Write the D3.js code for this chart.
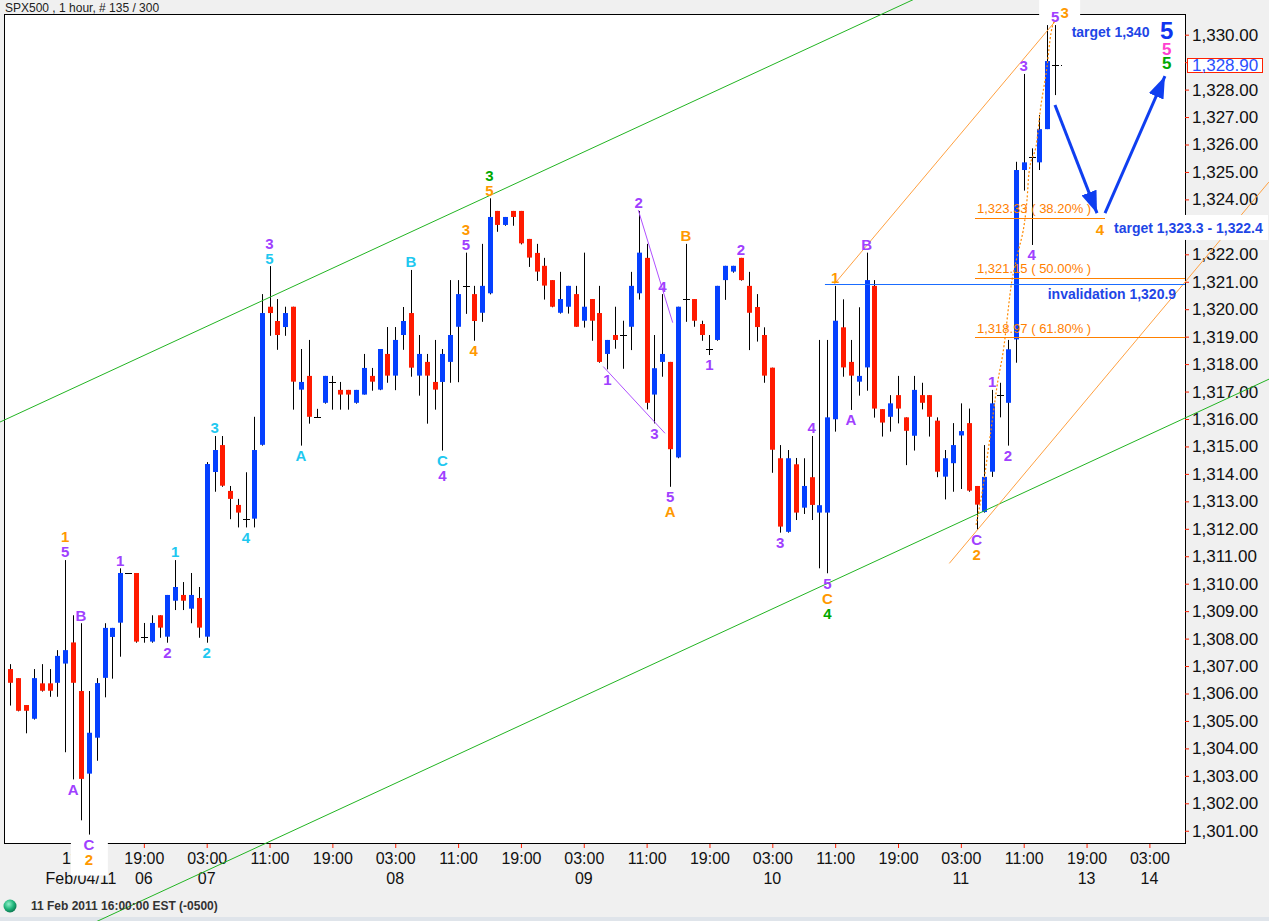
<!DOCTYPE html>
<html><head><meta charset="utf-8">
<script src="https://cdn.jsdelivr.net/npm/d3@7"></script>
<style>
html,body{margin:0;padding:0;background:#f0f0f0;overflow:hidden;}
svg{display:block;font-family:"Liberation Sans",Arial,sans-serif;}
</style></head><body>
<svg id="c" width="1269" height="921"></svg>
<script>
// ---------------- DATA ----------------
const opens = [1306.89,1306.56,1305.58,1305.08,1306.37,1306.37,1306.39,1307.09,1307.86,1306.09,
1303.08,1304.39,1306.57,1308.06,1308.58,1310.39,1310.39,1308.06,1307.89,1308.85,
1308.07,1309.38,1309.59,1309.09,1309.48,1308.07,1314.07,1315.05,1313.38,1312.87,
1312.35,1312.37,1315.06,1320.09,1319.57,1319.35,1320.09,1317.07,1317.57,1316.06,
1316.59,1317.35,1317.06,1317.06,1316.59,1316.89,1317.57,1317.07,1318.37,1317.58,
1319.06,1319.86,1317.58,1318.08,1317.35,1317.35,1318.08,1319.36,1320.85,1320.55,
1319.87,1320.58,1323.58,1323.07,1323.58,1323.58,1322.56,1322.05,1321.58,1321.06,
1319.87,1320.09,1320.55,1319.58,1320.37,1319.86,1318.37,1319.06,1319.06,1319.36,
1320.58,1321.87,1316.89,1318.08,1318.08,1314.60,1320.37,1320.37,1319.46,1318.54,
1318.88,1321.06,1321.37,1321.87,1320.85,1320.08,1319.06,1317.87,1314.57,1311.89,
1314.35,1312.77,1313.88,1312.59,1312.59,1315.99,1319.34,1318.08,1317.36,1317.88,
1320.85,1316.36,1316.08,1316.87,1316.06,1315.39,1316.87,1316.87,1315.94,1313.90,
1314.39,1315.40,1315.85,1313.56,1312.61,1314.08,1316.87,1316.59,1318.90,1325.07,
1325.56,1325.35,1326.56,1328.90];
const highs = [1307.07,1306.56,1305.58,1306.89,1307.07,1306.89,1307.58,1310.86,1308.85,1308.56,
1306.09,1306.56,1308.56,1308.39,1310.56,1310.39,1310.39,1308.57,1308.85,1308.85,
1309.59,1310.86,1310.06,1310.39,1309.88,1314.43,1315.38,1315.38,1313.56,1313.09,
1314.06,1316.08,1320.55,1321.57,1320.37,1320.09,1320.09,1318.55,1318.88,1316.37,
1317.57,1317.57,1317.35,1317.06,1317.06,1318.37,1317.86,1318.55,1319.35,1319.35,
1320.08,1321.43,1319.06,1318.37,1318.88,1318.55,1321.06,1321.06,1322.06,1320.85,
1322.38,1324.04,1323.58,1323.36,1323.58,1323.58,1322.56,1322.38,1321.87,1321.06,
1321.36,1320.85,1320.85,1322.06,1320.37,1320.85,1318.88,1320.09,1319.58,1321.36,
1323.58,1322.38,1319.06,1320.55,1318.08,1320.09,1322.38,1320.37,1319.58,1319.06,
1320.85,1321.58,1321.58,1321.87,1321.36,1320.55,1319.34,1317.87,1315.05,1314.87,
1314.58,1314.57,1315.38,1318.88,1318.88,1320.85,1320.36,1318.88,1320.07,1322.06,
1321.06,1316.36,1316.87,1317.57,1316.06,1317.57,1317.32,1316.87,1316.06,1314.87,
1315.85,1316.57,1316.38,1313.56,1315.05,1317.06,1317.32,1318.88,1325.37,1328.57,
1325.86,1327.07,1330.35,1330.35];
const lows = [1305.56,1305.35,1304.55,1305.05,1306.07,1305.88,1305.88,1303.86,1302.87,1301.38,
1300.86,1303.55,1305.86,1306.54,1307.34,1310.39,1307.85,1307.85,1307.85,1308.03,
1307.85,1309.04,1309.04,1308.56,1308.03,1307.85,1313.35,1313.53,1312.35,1312.05,
1312.05,1312.05,1315.03,1319.03,1318.52,1319.03,1316.34,1315.03,1315.83,1316.06,
1316.56,1316.34,1316.34,1316.34,1316.56,1316.89,1317.03,1317.05,1317.32,1317.05,
1318.52,1317.54,1316.85,1315.83,1316.34,1314.85,1317.32,1317.34,1319.83,1318.85,
1319.54,1320.54,1322.82,1323.04,1323.04,1322.36,1321.54,1321.03,1320.35,1320.07,
1319.84,1319.84,1319.36,1319.33,1318.85,1318.05,1317.81,1318.56,1317.83,1318.51,
1320.35,1316.35,1315.84,1317.54,1313.53,1314.57,1319.54,1319.36,1318.85,1318.33,
1318.85,1320.34,1321.33,1321.04,1318.51,1318.82,1317.32,1314.04,1311.86,1311.86,
1312.32,1312.54,1312.32,1310.56,1310.38,1315.54,1317.54,1316.33,1316.85,1317.03,
1316.05,1315.36,1315.54,1315.84,1314.32,1314.85,1316.35,1315.36,1313.88,1313.07,
1313.35,1313.45,1313.35,1311.96,1312.59,1313.89,1316.06,1315.03,1318.05,1324.32,
1322.34,1325.07,1326.56,1327.80];
const closes = [1306.39,1305.37,1305.37,1306.56,1306.10,1306.10,1307.37,1307.58,1306.39,1302.89,
1304.57,1306.38,1308.39,1308.39,1310.39,1310.39,1307.89,1308.06,1308.57,1308.40,
1309.59,1309.88,1309.38,1309.59,1308.40,1314.36,1314.87,1313.57,1313.09,1312.59,
1312.35,1314.87,1319.86,1319.86,1319.06,1319.86,1317.36,1317.35,1316.08,1316.06,
1317.57,1317.35,1316.89,1316.89,1317.06,1317.86,1317.36,1318.55,1317.58,1318.88,
1319.57,1317.87,1318.37,1317.58,1317.07,1318.37,1319.06,1320.55,1320.85,1319.57,
1320.85,1323.36,1323.07,1323.36,1323.36,1322.40,1321.88,1321.37,1320.86,1320.09,
1320.37,1320.85,1319.36,1320.09,1319.58,1318.08,1318.88,1318.88,1319.06,1320.85,
1322.06,1316.59,1317.85,1318.37,1314.90,1320.09,1320.37,1319.58,1319.06,1318.54,
1320.85,1321.58,1321.58,1321.06,1319.87,1319.35,1317.58,1314.88,1312.08,1314.57,
1312.59,1313.56,1312.87,1312.86,1316.06,1319.58,1317.88,1317.58,1317.57,1321.06,
1316.38,1315.87,1316.57,1316.38,1315.57,1317.06,1316.59,1316.08,1314.08,1314.57,
1315.05,1315.56,1313.39,1312.88,1313.89,1316.57,1316.87,1318.54,1325.07,1325.35,
1325.56,1326.56,1329.04,1328.90];

const priceTicks = d3.range(1301, 1331);
const hiddenPriceLabels = [1323, 1329];   // covered by the target box / price box in the original
const timeTickIndex = d3.range(9, 146, 8);
const timeTickLabels = ["11:00","19:00","03:00","11:00","19:00","03:00","11:00","19:00","03:00",
  "11:00","19:00","03:00","11:00","19:00","03:00","11:00","19:00","03:00"];
const dayTickLabels = ["Feb/04/11","06","07","","","08","","","09","","","10","","","11","","13","14"];
const currentPrice = 1328.90;

// wave labels: [bar index, above/below, stack row, text, colour key]
const waveLabels = [
 [7,'a',0,'5','P'],[7,'a',1,'1','O'],[8,'b',0,'A','P'],[9,'a',0,'B','P'],
 [10,'b',0,'C','P'],[10,'b',1,'2','O'],
 [14,'a',0,'1','P'],[20,'b',0,'2','P'],[21,'a',0,'1','C'],[25,'b',0,'2','C'],
 [26,'a',0,'3','C'],[30,'b',0,'4','C'],[33,'a',0,'5','C'],[33,'a',1,'3','P'],
 [37,'b',0,'A','C'],[51,'a',0,'B','C'],[55,'b',0,'C','C'],[55,'b',1,'4','P'],
 [59,'b',0,'4','O'],[58,'a',0,'5','P'],[58,'a',1,'3','O'],[61,'a',0,'5','O'],[61,'a',1,'3','G'],
 [76,'b',0,'1','P'],[80,'a',0,'2','P'],[82,'b',0,'3','P'],[83,'a',0,'4','P'],
 [84,'b',0,'5','P'],[84,'b',1,'A','O'],[86,'a',0,'B','O'],[89,'b',0,'1','P'],
 [93,'a',0,'2','P'],[98,'b',0,'3','P'],[102,'a',0,'4','P'],
 [104,'b',0,'5','P'],[104,'b',1,'C','O'],[104,'b',2,'4','G'],
 [105,'a',0,'1','O'],[107,'b',0,'A','P'],[109,'a',0,'B','P'],
 [123,'b',0,'C','P'],[123,'b',1,'2','O'],[125,'a',0,'1','P'],[127,'b',0,'2','P'],
 [129,'a',0,'3','P'],[130,'b',0,'4','P'],[133,'a',0,'5','P']
];
const labelColors = {P:"#a040ff", O:"#ff9900", C:"#1ec8f0", G:"#00a800", K:"#ff40d0", B:"#1040f0"};

// overlay lines in (bar index, price)
const greenUpper = [[-1.31,1315.89],[114.80,1331.26]];
const greenLower = [[11.42,1297.75],[158.02,1317.16]];
const orangeUpper = [[104.79,1320.88],[133.37,1330.61]];
const orangeLower = [[119.53,1310.74],[160.2,1324.63]];
const purpleA = [[79.94,1323.61],[84.32,1319.51]];
const purpleB = [[75.48,1317.91],[83.34,1315.48]];
const orangeDotted = [[122.93,1312.14],[123.69,1313.30],[124.71,1315.34],[125.73,1317.42],
 [126.36,1318.40],[127.51,1321.06],[128.14,1321.90],[129.42,1323.98],[129.67,1324.96],
 [130.69,1326.16],[131.07,1327.15],[131.96,1328.82],[132.47,1330.06],[132.98,1330.54]];
const invalidation = {price:1320.9, from:103.7};
const fibLevels = [[1323.33,"1,323.33 ( 38.20% )"],[1321.15,"1,321.15 ( 50.00% )"],[1318.97,"1,318.97 ( 61.80% )"]];
const fibFrom = 122.8;
const arrow1 = [[132.98,1327.44],[138.33,1323.50]];
const arrow2 = [[139.35,1323.50],[146.98,1328.49]];

// ---------------- LAYOUT ----------------
const W = 1269, H = 921;
const plot = {l:4, t:14, r:1185, b:844};
const x = d3.scaleLinear().domain([0,145]).range([10.3,1149.4]);
const y = d3.scaleLinear().domain([1301,1330]).range([830.75,34.7]);
const BLUE = "#0540ff", RED = "#ff1a00";

const svg = d3.select("#c");
svg.append("rect").attr("width",W).attr("height",H).attr("fill","#f0f0f0");
svg.append("rect").attr("x",0).attr("y",917).attr("width",W).attr("height",4).attr("fill","#dfe4ea");

// title
svg.append("text").attr("x",5).attr("y",7.5).attr("dy","0.35em")
  .attr("font-size",12).attr("fill","#222").text("SPX500 , 1 hour, # 135 / 300");

// plot area
svg.append("rect").attr("x",plot.l+0.5).attr("y",plot.t+0.5)
  .attr("width",plot.r-plot.l).attr("height",plot.b-plot.t-1)
  .attr("fill","#fff").attr("stroke","#000").attr("stroke-width",1);

// right price axis
const yAxis = d3.axisRight(y).tickValues(priceTicks)
  .tickFormat(d => hiddenPriceLabels.includes(d) ? "" : d3.format(",.2f")(d))
  .tickSize(4).tickPadding(3);
const ya = svg.append("g").attr("transform",`translate(${plot.r},0)`).call(yAxis);
ya.select(".domain").remove();
ya.selectAll(".tick line").attr("stroke","#ff2000");
ya.selectAll(".tick text").attr("font-size",17).attr("fill","#111")
  .attr("font-family","Liberation Sans, Arial, sans-serif");

// bottom time axis
const xAxis = d3.axisBottom(x).tickValues(timeTickIndex)
  .tickFormat((d,i)=>timeTickLabels[i]).tickSize(4).tickPadding(0);
const xa = svg.append("g").attr("transform",`translate(0,${plot.b})`).call(xAxis);
xa.select(".domain").remove();
xa.selectAll(".tick line").attr("stroke","#ff2000");
xa.selectAll(".tick text").attr("font-size",16).attr("fill","#111")
  .attr("y",14).attr("dy","0.35em").attr("font-family","Liberation Sans, Arial, sans-serif");
svg.append("g").selectAll("text").data(timeTickIndex).join("text")
  .attr("x",d=>x(d)).attr("y",878).attr("dy","0.35em").attr("text-anchor","middle")
  .attr("font-size",16).attr("fill","#111").text((d,i)=>dayTickLabels[i]);

// candles
const cg = svg.append("g");
const px = i => Math.round(x(i));
opens.forEach((o,i)=>{
  const c = closes[i], h = highs[i], l = lows[i];
  const cx = px(i);
  cg.append("line").attr("x1",cx+0.5).attr("x2",cx+0.5)
    .attr("y1",y(h)).attr("y2",y(l)).attr("stroke","#000").attr("stroke-width",1);
  if (o === c) {
    cg.append("line").attr("x1",cx-3).attr("x2",cx+4)
      .attr("y1",Math.round(y(c))+0.5).attr("y2",Math.round(y(c))+0.5)
      .attr("stroke","#000").attr("stroke-width",1);
  } else {
    const top = y(Math.max(o,c)), bot = y(Math.min(o,c));
    cg.append("rect").attr("x",cx-2).attr("width",5)
      .attr("y",top).attr("height",Math.max(1,bot-top))
      .attr("fill", c>o?BLUE:RED);
  }
});

// helpers
const P = d => [x(d[0]), y(d[1])];
function seg(pts, color) {
  return svg.append("path").attr("d", d3.line()(pts.map(P)))
    .attr("fill","none").attr("stroke",color).attr("stroke-width",1);
}
function fullLine(pts, color) {
  const [a,b] = pts.map(P);
  const k = (b[1]-a[1])/(b[0]-a[0]);
  const x0 = -20, x1 = W+20;
  svg.append("line").attr("x1",x0).attr("y1",a[1]+k*(x0-a[0]))
    .attr("x2",x1).attr("y2",a[1]+k*(x1-a[0]))
    .attr("stroke",color).attr("stroke-width",1);
}

// channels
fullLine(greenUpper, "#22b422");
fullLine(greenLower, "#22b422");
seg(orangeUpper, "#ffa040");
seg(orangeLower, "#ffa040");
seg(purpleA, "#b050ff");
seg(purpleB, "#b050ff");
svg.append("path").attr("d", d3.line().curve(d3.curveMonotoneX)(orangeDotted.map(P)))
  .attr("fill","none").attr("stroke","#ff8a00").attr("stroke-width",1.2).attr("stroke-dasharray","2,2");

// invalidation
svg.append("line").attr("x1",x(invalidation.from)).attr("x2",plot.r)
  .attr("y1",Math.round(y(invalidation.price))+0.5).attr("y2",Math.round(y(invalidation.price))+0.5)
  .attr("stroke","#1a6cff").attr("stroke-width",1);

// fib levels
fibLevels.forEach(([p,t])=>{
  const yy = Math.round(y(p))+0.5;
  svg.append("line").attr("x1",x(fibFrom)).attr("x2",plot.r).attr("y1",yy).attr("y2",yy)
    .attr("stroke","#ff8000").attr("stroke-width",1);
  svg.append("text").attr("x",x(fibFrom)+2).attr("y",y(p)-9).attr("dy","0.35em")
    .attr("font-size",13).attr("fill","#ff8000").text(t);
});

// current price marker
svg.append("line").attr("x1",px(133)+3).attr("x2",px(133)+9)
  .attr("y1",Math.round(y(currentPrice))+0.5).attr("y2",Math.round(y(currentPrice))+0.5)
  .attr("stroke","#000").attr("stroke-dasharray","1,2");

// arrows
const defs = svg.append("defs");
defs.append("marker").attr("id","ah").attr("markerUnits","userSpaceOnUse")
  .attr("markerWidth",24).attr("markerHeight",16).attr("refX",22).attr("refY",8)
  .attr("orient","auto").append("path").attr("d","M0,0 L22,8 L0,16 Z").attr("fill","#0f3ef0");
[arrow1, arrow2].forEach(a=>{
  const [p0,p1] = a.map(P);
  svg.append("line").attr("x1",p0[0]).attr("y1",p0[1]).attr("x2",p1[0]).attr("y2",p1[1])
    .attr("stroke","#0f3ef0").attr("stroke-width",3).attr("marker-end","url(#ah)");
});

// wave labels
const lg = svg.append("g").attr("font-weight","bold").attr("font-size",15).attr("text-anchor","middle");
{
  const cx = x(10), y0 = y(lows[10]) + 1, y1 = y(lows[10]) + 41;
  lg.append("rect").attr("x",cx-18).attr("y",y0).attr("width",37).attr("height",y1-y0).attr("fill","#fff");
}
{
  const cx = x(133), yc = y(highs[133]) - 8;
  lg.append("rect").attr("x",cx-16).attr("y",0).attr("width",41).attr("height",yc+2).attr("fill","#fff");
}
waveLabels.forEach(([i,pos,row,t,col])=>{
  const yy = pos==='a' ? y(highs[i]) - 8 - 15*row : y(lows[i]) + 10 + 15*row;
  lg.append("text").attr("x",x(i)).attr("y",yy).attr("dy","0.36em")
    .attr("fill",labelColors[col]).text(t);
});
lg.append("text").attr("x",x(133)+9.5).attr("y",y(highs[133])-12).attr("dy","0.36em")
  .attr("fill",labelColors.O).text("3");

// right-side annotations
const ag = svg.append("g").attr("font-weight","bold");
ag.append("text").attr("x",x(135.1)).attr("y",y(1330.1)).attr("dy","0.35em")
  .attr("font-size",14).attr("fill","#1e46e6").text("target 1,340");
ag.append("text").attr("x",x(147.2)).attr("y",y(1330.15)).attr("dy","0.36em").attr("text-anchor","middle")
  .attr("font-size",24).attr("fill","#1034f0").text("5");
ag.append("text").attr("x",x(147.2)).attr("y",y(1329.5)).attr("dy","0.36em").attr("text-anchor","middle")
  .attr("font-size",17).attr("fill",labelColors.K).text("5");
ag.append("text").attr("x",x(147.2)).attr("y",y(1328.96)).attr("dy","0.36em").attr("text-anchor","middle")
  .attr("font-size",17).attr("fill",labelColors.G).text("5");
ag.append("text").attr("x",x(138.7)).attr("y",y(1322.9)).attr("dy","0.36em").attr("text-anchor","middle")
  .attr("font-size",15).attr("fill",labelColors.O).text("4");
{
  const yy = y(1322.96);
  ag.append("rect").attr("x",x(139.35)).attr("y",yy-13).attr("width",W-x(139.35)-1).attr("height",25).attr("fill","#fff");
  ag.append("text").attr("x",x(140.5)).attr("y",yy).attr("dy","0.35em")
    .attr("font-size",14).attr("fill","#1e46e6").text("target 1,323.3 - 1,322.4");
}
ag.append("text").attr("x",x(148.4)).attr("y",y(1320.55)).attr("dy","0.35em").attr("text-anchor","end")
  .attr("font-size",14).attr("fill","#1e46e6").text("invalidation 1,320.9");

// current price box on axis
{
  const yy = y(currentPrice);
  svg.append("rect").attr("x",1187.5).attr("y",Math.round(yy)-6.5).attr("width",75).attr("height",14)
    .attr("fill","#fff").attr("stroke","#ff2000").attr("stroke-width",1);
  svg.append("text").attr("x",1192).attr("y",yy+0.5).attr("dy","0.35em").attr("font-size",17)
    .attr("fill","#2a50ff").text(d3.format(",.2f")(currentPrice));
}

// status bar
const grad = defs.append("radialGradient").attr("id","gg").attr("cx","40%").attr("cy","35%").attr("r","65%");
grad.append("stop").attr("offset","0%").attr("stop-color","#8ff0c8");
grad.append("stop").attr("offset","60%").attr("stop-color","#1eb47a");
grad.append("stop").attr("offset","100%").attr("stop-color","#0e7a52");
svg.append("circle").attr("cx",10).attr("cy",906).attr("r",6.5).attr("fill","url(#gg)");
svg.append("text").attr("x",31).attr("y",906).attr("dy","0.35em").attr("font-size",12)
  .attr("font-weight","bold").attr("fill","#333").text("11 Feb 2011 16:00:00  EST (-0500)");
</script>
</body></html>
